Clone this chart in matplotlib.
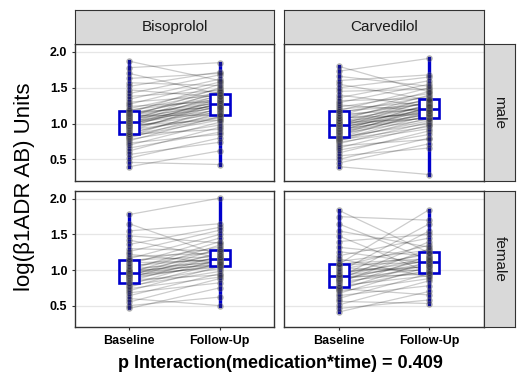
import numpy as np
import matplotlib.pyplot as plt

plt.rcParams['font.family'] = ['Liberation Sans', 'DejaVu Sans']

drugs = ['Bisoprolol', 'Carvedilol']
sexes = ['male', 'female']
times = ['Baseline', 'Follow-Up']
yticks = [0.5, 1.0, 1.5, 2.0]
ylabels = ['0.5', '1.0', '1.5', '2.0']

# paired values, baseline[i] -> followup[i]
bis_male_base = [0.40, 0.46, 0.52, 0.57, 0.62, 0.66, 0.70, 0.73, 0.76, 0.78,
                 0.80, 0.82, 0.83, 0.84, 0.85, 0.86, 0.88, 0.89, 0.91, 0.92,
                 0.94, 0.95, 0.96, 0.97, 0.98, 0.99, 1.00, 1.01, 1.01, 1.02,
                 1.03, 1.04, 1.05, 1.06, 1.07, 1.08, 1.09, 1.10, 1.11, 1.12,
                 1.13, 1.14, 1.15, 1.16, 1.18, 1.19, 1.21, 1.24, 1.27, 1.30,
                 1.34, 1.38, 1.42, 1.47, 1.52, 1.57, 1.63, 1.70, 1.78, 1.87]
bis_male_fu = [0.62, 0.43, 0.80, 0.74, 0.95, 0.88, 1.02, 0.85, 1.10, 0.98,
               1.15, 1.05, 1.22, 1.08, 0.92, 1.18, 1.12, 1.30, 1.09, 1.25,
               1.20, 1.35, 1.14, 1.28, 1.05, 1.32, 1.24, 1.16, 1.40, 1.27,
               1.19, 1.45, 1.30, 1.22, 1.36, 1.26, 1.50, 1.33, 1.12, 1.42,
               1.29, 1.38, 1.55, 1.23, 1.44, 1.34, 1.48, 1.31, 1.58, 1.39,
               1.62, 1.46, 1.68, 1.37, 1.72, 1.53, 1.70, 1.41, 1.85, 1.60]

car_male_base = [0.40, 0.45, 0.50, 0.55, 0.59, 0.63, 0.66, 0.69, 0.72, 0.74,
                 0.76, 0.77, 0.78, 0.79, 0.80, 0.81, 0.83, 0.84, 0.86, 0.87,
                 0.88, 0.89, 0.90, 0.91, 0.92, 0.93, 0.94, 0.95, 0.96, 0.97,
                 0.98, 0.99, 1.00, 1.01, 1.02, 1.03, 1.04, 1.06, 1.07, 1.08,
                 1.10, 1.11, 1.13, 1.15, 1.17, 1.18, 1.20, 1.23, 1.26, 1.29,
                 1.32, 1.36, 1.40, 1.45, 1.50, 1.55, 1.60, 1.66, 1.73, 1.80]
car_male_fu = [0.29, 0.72, 0.80, 0.66, 0.90, 0.85, 0.98, 0.78, 1.02, 0.93,
               1.08, 0.96, 1.12, 1.04, 1.18, 1.00, 1.15, 1.24, 1.06, 1.20,
               1.10, 1.28, 1.14, 1.22, 1.09, 1.26, 1.17, 1.32, 1.12, 1.21,
               1.36, 1.19, 1.25, 1.07, 1.30, 1.16, 1.40, 1.23, 1.34, 1.13,
               1.29, 1.45, 1.20, 1.38, 1.27, 1.50, 1.31, 1.42, 1.18, 1.55,
               1.35, 1.60, 1.24, 1.48, 1.65, 1.33, 1.68, 1.52, 1.91, 1.44]

bis_female_base = [0.46, 0.50, 0.55, 0.60, 0.64, 0.68, 0.71, 0.74, 0.76, 0.78,
                   0.80, 0.82, 0.84, 0.86, 0.88, 0.89, 0.90, 0.91, 0.92, 0.93,
                   0.94, 0.95, 0.96, 0.97, 0.98, 0.99, 1.00, 1.02, 1.04, 1.06,
                   1.08, 1.10, 1.12, 1.14, 1.16, 1.19, 1.22, 1.26, 1.30, 1.36,
                   1.42, 1.48, 1.55, 1.65, 1.78]
bis_female_fu = [0.75, 0.62, 0.88, 0.50, 0.95, 0.82, 1.05, 0.90, 1.10, 0.98,
                 1.15, 1.02, 1.20, 0.93, 1.08, 1.25, 1.06, 1.12, 1.30, 1.04,
                 1.18, 1.09, 1.35, 1.13, 1.22, 1.07, 1.40, 1.11, 1.28, 1.16,
                 1.45, 1.14, 1.32, 1.19, 1.50, 1.24, 1.10, 1.56, 1.27, 1.60,
                 1.17, 1.38, 1.65, 1.21, 2.01]

car_female_base = [0.41, 0.46, 0.51, 0.56, 0.60, 0.64, 0.67, 0.70, 0.72, 0.74,
                   0.75, 0.76, 0.78, 0.80, 0.82, 0.84, 0.85, 0.86, 0.87, 0.88,
                   0.89, 0.90, 0.91, 0.92, 0.93, 0.95, 0.97, 0.99, 1.01, 1.03,
                   1.05, 1.07, 1.08, 1.09, 1.12, 1.16, 1.20, 1.26, 1.32, 1.40,
                   1.48, 1.55, 1.65, 1.75, 1.84]
car_female_fu = [0.70, 0.58, 0.85, 0.53, 0.95, 0.78, 1.05, 0.88, 1.12, 0.65,
                 1.00, 1.20, 0.92, 1.08, 1.30, 0.97, 1.15, 1.40, 1.02, 1.10,
                 1.55, 0.94, 1.18, 1.06, 1.25, 1.13, 1.65, 1.04, 1.22, 0.99,
                 1.35, 1.11, 1.85, 1.16, 1.28, 0.90, 1.45, 1.09, 1.19, 1.50,
                 0.96, 1.32, 1.14, 1.70, 1.24]

data = {
    ('male', 'Bisoprolol'): (bis_male_base, bis_male_fu),
    ('male', 'Carvedilol'): (car_male_base, car_male_fu),
    ('female', 'Bisoprolol'): (bis_female_base, bis_female_fu),
    ('female', 'Carvedilol'): (car_female_base, car_female_fu),
}

blue = '#0000CC'
W, H = 521, 387

def rect(x0, y0, x1, y1):
    # pixel box (top-left origin) -> figure fraction
    return [x0 / W, 1 - y1 / H, (x1 - x0) / W, (y1 - y0) / H]

fig = plt.figure(figsize=(5.21, 3.87), dpi=100)

col_x = [(75, 274), (284, 484)]
row_y = [(44, 181), (191, 327)]

for r, sex in enumerate(sexes):
    for c, drug in enumerate(drugs):
        ax = fig.add_axes(rect(col_x[c][0], row_y[r][0], col_x[c][1], row_y[r][1]))
        base = np.array(data[(sex, drug)][0])
        fu = np.array(data[(sex, drug)][1])

        ys = np.vstack([base, fu])
        ax.plot([1, 2], ys, color='black', alpha=0.2, lw=0.9, zorder=1)

        ax.boxplot([base, fu], positions=[1, 2], widths=0.22, whis=(0, 100),
                   patch_artist=True, showcaps=False, showfliers=False,
                   boxprops=dict(facecolor='white', edgecolor=blue, linewidth=1.9),
                   medianprops=dict(color=blue, linewidth=1.9),
                   whiskerprops=dict(color=blue, linewidth=2.3),
                   zorder=2)
        ax.vlines([1, 2], [base.min(), fu.min()], [base.max(), fu.max()],
                  color=blue, lw=2.3, zorder=3)

        for xpos, vals in zip([1, 2], [base, fu]):
            ax.scatter(np.full(len(vals), xpos), vals, s=18, facecolor='#333333',
                       edgecolor='#888888', linewidth=0.6, alpha=0.35, zorder=4)

        ax.set_xlim(0.4, 2.6)
        ax.set_ylim(0.2, 2.11)
        ax.set_yticks(yticks)
        ax.set_xticks([1, 2])
        ax.grid(axis='y', color='#E6E6E6', lw=0.9, zorder=0)
        ax.set_axisbelow(True)
        for s in ax.spines.values():
            s.set_color('#333333')
            s.set_linewidth(1.0)
        ax.tick_params(length=2.5, width=0.8, color='#333333', pad=3)
        if c == 0:
            ax.set_yticklabels(ylabels, fontsize=9, fontweight='bold')
        else:
            ax.set_yticklabels([])
            ax.tick_params(axis='y', length=0)
        if r == 1:
            ax.set_xticklabels(times, fontsize=9, fontweight='bold')
        else:
            ax.set_xticklabels([])
            ax.tick_params(axis='x', length=0)

# strips
for c, drug in enumerate(drugs):
    sax = fig.add_axes(rect(col_x[c][0], 10, col_x[c][1], 44))
    sax.set_facecolor('#D9D9D9')
    sax.set_xticks([]); sax.set_yticks([])
    for s in sax.spines.values():
        s.set_color('#333333')
    sax.text(0.5, 0.5, drug, ha='center', va='center', fontsize=11,
             color='#1A1A1A', transform=sax.transAxes)

for r, sex in enumerate(sexes):
    sax = fig.add_axes(rect(484, row_y[r][0], 515, row_y[r][1]))
    sax.set_facecolor('#D9D9D9')
    sax.set_xticks([]); sax.set_yticks([])
    for s in sax.spines.values():
        s.set_color('#333333')
    sax.text(0.5, 0.5, sex, ha='center', va='center', fontsize=11, rotation=-90,
             color='#1A1A1A', transform=sax.transAxes)

fig.text(25 / W, 1 - 187 / H, 'log(\u03b21ADR AB) Units', rotation=90,
         ha='center', va='center', fontsize=16)
fig.text(280 / W, 1 - 364 / H, 'p Interaction(medication*time) = 0.409',
         ha='center', va='center', fontsize=13, fontweight='bold')

fig.savefig('out.png', dpi=100)
